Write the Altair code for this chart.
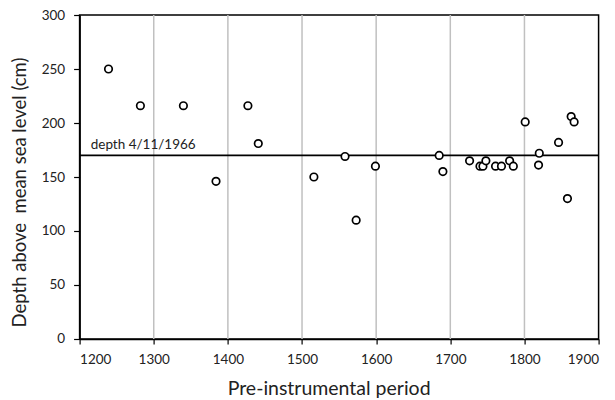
import altair as alt
import pandas as pd

# Data
years = [1239, 1282, 1340, 1384, 1427, 1441, 1516, 1558, 1573, 1599,
         1685, 1690, 1726, 1740, 1744, 1748, 1761, 1769, 1780, 1785,
         1801, 1819, 1820, 1846, 1858, 1863, 1867]
depths = [250, 216, 216, 146, 216, 181, 150, 169, 110, 160,
          170, 155, 165, 160, 160, 165, 160, 160, 165, 160,
          201, 161, 172, 182, 130, 206, 201]
ref_depth = [170]
ref_label = ["depth 4/11/1966"]
ref_label_year = [1215]
x_ticks = [1200, 1300, 1400, 1500, 1600, 1700, 1800, 1900]
grid_years = [1300, 1400, 1500, 1600, 1700, 1800]
y_ticks = [0, 50, 100, 150, 200, 250, 300]

df = pd.DataFrame({"year": years, "depth": depths})
ref_df = pd.DataFrame({"depth": ref_depth, "label": ref_label, "year": ref_label_year})
grid_df = pd.DataFrame({"year": grid_years})

FONT = "Lato"

xscale = alt.Scale(domain=[1200, 1900], nice=False, zero=False)
yscale = alt.Scale(domain=[0, 300], nice=False)

x_axis = alt.Axis(values=x_ticks, format="d", title="Pre-instrumental period",
                  grid=False, tickSize=5, labelPadding=9,
                  titleFontSize=19.5, titleX=249, titleY=56,
                  titleBaseline="alphabetic", titleAlign="center")
y_axis = alt.Axis(values=y_ticks, title="Depth above\u00a0 mean sea level (cm)",
                  grid=False, tickSize=6, labelPadding=9,
                  titleFontSize=18.5, titleX=-50, titleY=177,
                  titleAlign="center")

def X(field):
    return alt.X(field, scale=xscale, axis=x_axis)

def Y(field):
    return alt.Y(field, scale=yscale, axis=y_axis)

grid = alt.Chart(grid_df).mark_rule(color="#c0c0c0", strokeWidth=1.5).encode(
    x=X("year:Q")
)

ref_line = alt.Chart(ref_df).mark_rule(color="black", strokeWidth=1.6).encode(
    y=Y("depth:Q")
)

ref_text = alt.Chart(ref_df).mark_text(
    align="left", baseline="bottom", dy=-3, fontSize=13.5, font=FONT, color="#222222"
).encode(
    x=X("year:Q"),
    y=Y("depth:Q"),
    text="label:N",
)

points = alt.Chart(df).mark_point(
    shape="circle", filled=True, fill="white", stroke="black",
    strokeWidth=1.7, size=56, opacity=1
).encode(
    x=X("year:Q"),
    y=Y("depth:Q"),
)

chart = alt.layer(grid, ref_line, ref_text, points).properties(
    width=519, height=324,
    autosize=alt.AutoSizeParams(type="none"),
    padding={"left": 71.6, "top": 7, "right": 8, "bottom": 61},
).configure_view(
    stroke="black", strokeWidth=1.5
).configure_axis(
    domainColor="black", domainWidth=1.5, tickColor="black", tickWidth=1.2,
    labelFont=FONT, titleFont=FONT, labelFontSize=13.5,
    titleFontWeight="normal", labelColor="#222222", titleColor="#222222",
)

chart.save("out.html", embed_options={"renderer": "svg", "actions": False})
